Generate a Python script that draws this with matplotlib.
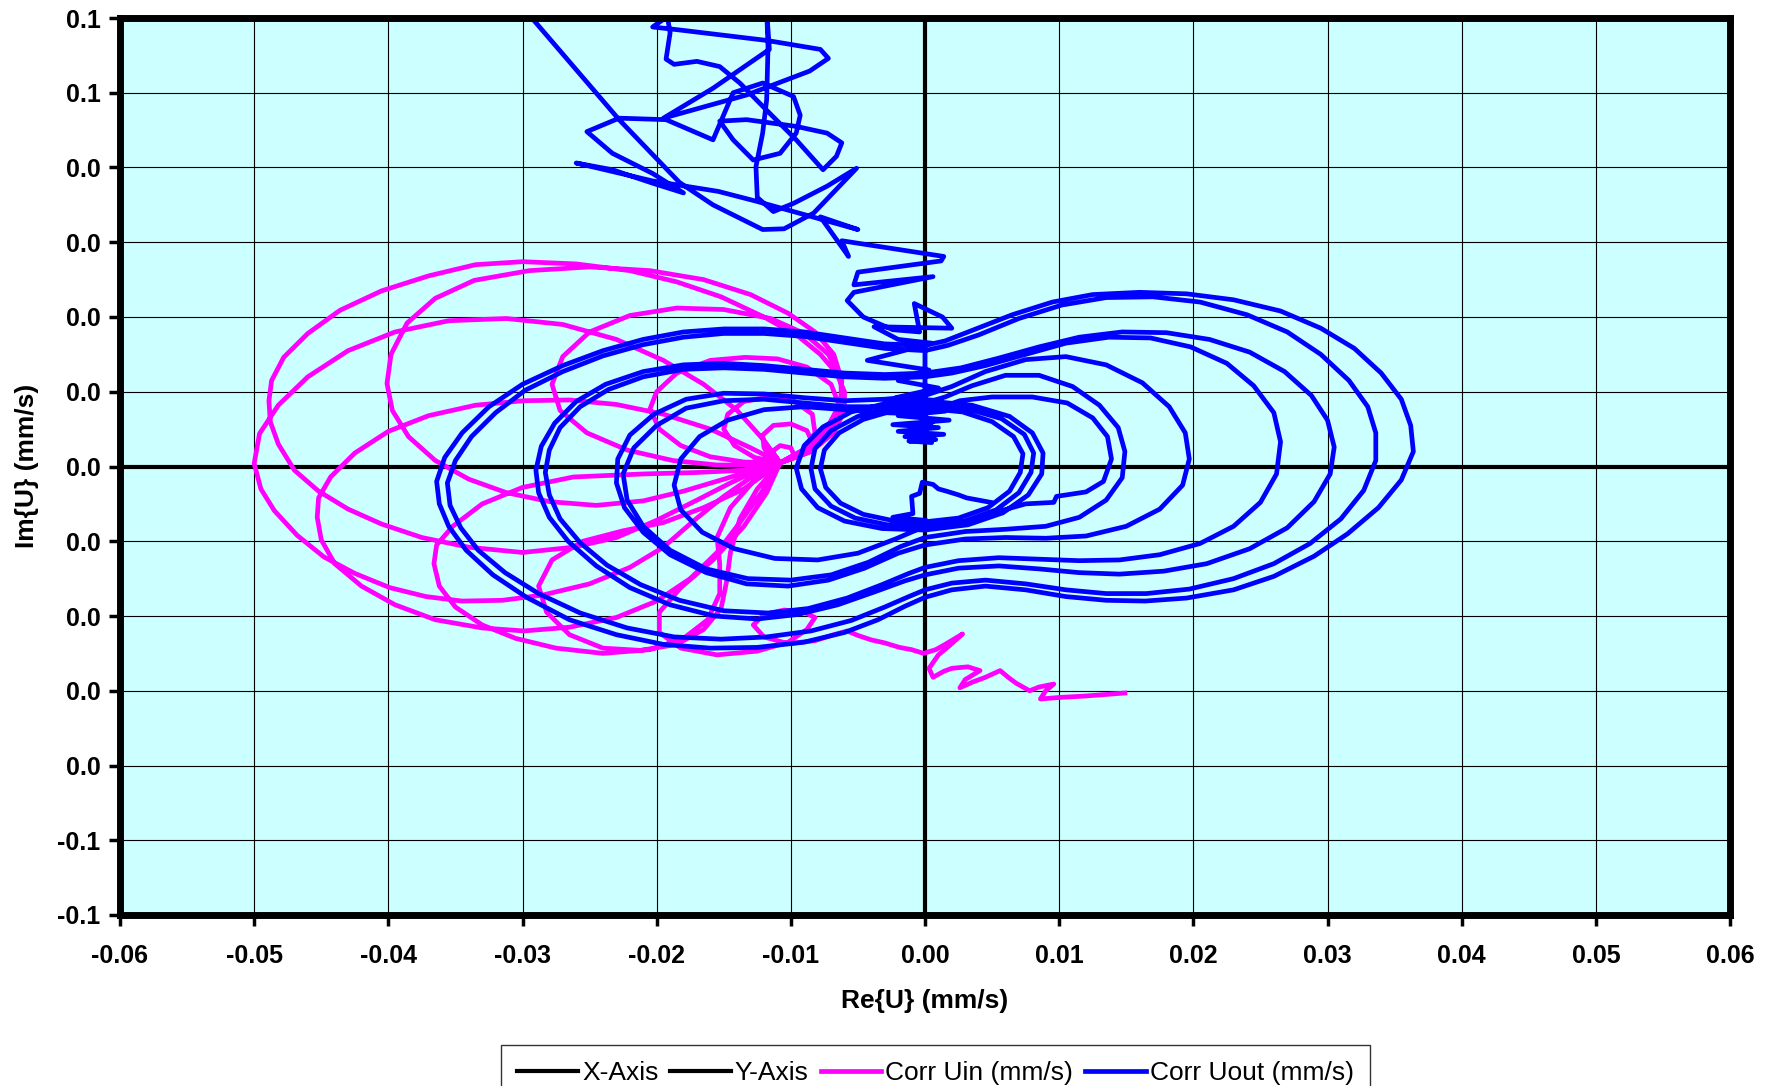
#!/usr/bin/env python3
"""Complex velocity trajectories: Re{U} vs Im{U} for Corr Uin / Corr Uout."""
import matplotlib
matplotlib.use("Agg")
import matplotlib.pyplot as plt
import numpy as np

plt.rcParams["font.family"] = ["Liberation Sans", "DejaVu Sans"]

# ---------- data (mm/s) ----------

X_TICKS = [-0.06, -0.05, -0.04, -0.03, -0.02, -0.01, 0.0, 0.01, 0.02, 0.03, 0.04, 0.05, 0.06]
X_LABELS = ["-0.06", "-0.05", "-0.04", "-0.03", "-0.02", "-0.01", "0.00",
            "0.01", "0.02", "0.03", "0.04", "0.05", "0.06"]
Y_TICKS = [-0.06, -0.05, -0.04, -0.03, -0.02, -0.01, 0.0, 0.01, 0.02, 0.03, 0.04, 0.05, 0.06]
Y_LABELS = ["-0.1", "-0.1", "0.0", "0.0", "0.0", "0.0", "0.0",
            "0.0", "0.0", "0.0", "0.0", "0.1", "0.1"]

X_AXIS = [(-0.06, 0.0), (0.06, 0.0)]
Y_AXIS = [(0.0, -0.06), (0.0, 0.06)]

# Corr Uin: loops that all pass near (-0.0108, 0.0005)
UIN_U7 = [(-0.0108, 0.0005), (-0.0097, 0.0013), (-0.0100, 0.0025), (-0.0108, 0.0028),
          (-0.0114, 0.0020), (-0.0108, 0.0005)]
UIN_U6 = [(-0.0092, 0.0015), (-0.0084, 0.0032), (-0.0088, 0.0048), (-0.0100, 0.0057),
          (-0.0113, 0.0055), (-0.0121, 0.0042), (-0.0120, 0.0025), (-0.0115, 0.0012), (-0.0108, 0.0005)]
UIN_U5 = [(-0.0090, 0.0022), (-0.0082, 0.0045), (-0.0084, 0.0070), (-0.0098, 0.0088),
          (-0.0116, 0.0093), (-0.0135, 0.0087), (-0.0147, 0.0070), (-0.0150, 0.0050),
          (-0.0142, 0.0028), (-0.0127, 0.0012), (-0.0108, 0.0005)]
UIN_U4 = [(-0.0085, 0.0020), (-0.0070, 0.0045), (-0.0063, 0.0077), (-0.0070, 0.0110),
          (-0.0088, 0.0133), (-0.0110, 0.0144), (-0.0134, 0.0146), (-0.0160, 0.0142),
          (-0.0185, 0.0125), (-0.0200, 0.0100), (-0.0205, 0.0077), (-0.0198, 0.0050),
          (-0.0182, 0.0028), (-0.0160, 0.0013), (-0.0135, 0.0006), (-0.0108, 0.0005)]
UIN_U3 = [(-0.0085, 0.0025), (-0.0070, 0.0055), (-0.0062, 0.0090), (-0.0063, 0.0120),
          (-0.0072, 0.0150), (-0.0090, 0.0178), (-0.0115, 0.0198), (-0.0150, 0.0210),
          (-0.0185, 0.0212), (-0.0220, 0.0202), (-0.0250, 0.0180), (-0.0270, 0.0147),
          (-0.0278, 0.0110), (-0.0272, 0.0075), (-0.0252, 0.0045), (-0.0222, 0.0022),
          (-0.0188, 0.0008), (-0.0155, 0.0002), (-0.0130, 0.0002), (-0.0108, 0.0005)]
UIN_U2 = [(-0.0088, 0.0025), (-0.0072, 0.0055), (-0.0063, 0.0085), (-0.0062, 0.0115),
          (-0.0068, 0.0150), (-0.0082, 0.0180), (-0.0102, 0.0205), (-0.0130, 0.0230),
          (-0.0165, 0.0250), (-0.0205, 0.0262), (-0.0250, 0.0267), (-0.0295, 0.0262),
          (-0.0336, 0.0249), (-0.0365, 0.0225), (-0.0386, 0.0192), (-0.0398, 0.0150),
          (-0.0401, 0.0111), (-0.0397, 0.0075), (-0.0385, 0.0040), (-0.0365, 0.0008),
          (-0.0340, -0.0017), (-0.0312, -0.0035), (-0.0280, -0.0047), (-0.0245, -0.0052),
          (-0.0210, -0.0046), (-0.0180, -0.0033), (-0.0150, -0.0017), (-0.0125, -0.0003),
          (-0.0108, 0.0005)]
UIN_U1 = [(-0.0085, 0.0020), (-0.0068, 0.0045), (-0.0060, 0.0075), (-0.0060, 0.0100),
          (-0.0066, 0.0125), (-0.0078, 0.0150), (-0.0095, 0.0175), (-0.0120, 0.0200),
          (-0.0152, 0.0227), (-0.0185, 0.0247), (-0.0220, 0.0262), (-0.0260, 0.0271),
          (-0.0300, 0.0274), (-0.0335, 0.0270), (-0.0370, 0.0255), (-0.0405, 0.0235),
          (-0.0436, 0.0209), (-0.0460, 0.0178), (-0.0478, 0.0146), (-0.0487, 0.0115),
          (-0.0489, 0.0088), (-0.0488, 0.0060), (-0.0482, 0.0030), (-0.0470, -0.0005),
          (-0.0452, -0.0033), (-0.0430, -0.0057), (-0.0405, -0.0077), (-0.0375, -0.0095),
          (-0.0340, -0.0108), (-0.0300, -0.0115), (-0.0262, -0.0108), (-0.0230, -0.0095),
          (-0.0200, -0.0072), (-0.0170, -0.0045), (-0.0145, -0.0022), (-0.0125, -0.0005),
          (-0.0108, 0.0005)]
UIN_L1 = [(-0.0120, 0.0035), (-0.0140, 0.0075), (-0.0165, 0.0110), (-0.0195, 0.0142),
          (-0.0230, 0.0170), (-0.0270, 0.0190), (-0.0312, 0.0198), (-0.0355, 0.0195),
          (-0.0395, 0.0180), (-0.0430, 0.0155), (-0.0460, 0.0120), (-0.0482, 0.0082),
          (-0.0496, 0.0044), (-0.0500, 0.0004), (-0.0495, -0.0030), (-0.0485, -0.0059),
          (-0.0468, -0.0092), (-0.0448, -0.0121), (-0.0425, -0.0143), (-0.0399, -0.0162),
          (-0.0372, -0.0174), (-0.0345, -0.0180), (-0.0315, -0.0179), (-0.0285, -0.0172),
          (-0.0250, -0.0157), (-0.0220, -0.0135), (-0.0195, -0.0108), (-0.0172, -0.0072),
          (-0.0150, -0.0040), (-0.0130, -0.0015), (-0.0108, 0.0005)]
UIN_L2 = [(-0.0130, 0.0025), (-0.0160, 0.0050), (-0.0195, 0.0070), (-0.0230, 0.0083),
          (-0.0265, 0.0089), (-0.0299, 0.0088), (-0.0335, 0.0082), (-0.0370, 0.0068),
          (-0.0400, 0.0047), (-0.0425, 0.0018), (-0.0443, -0.0014), (-0.0452, -0.0042),
          (-0.0453, -0.0068), (-0.0450, -0.0098), (-0.0440, -0.0130), (-0.0420, -0.0160),
          (-0.0395, -0.0185), (-0.0365, -0.0205), (-0.0330, -0.0216), (-0.0299, -0.0220),
          (-0.0265, -0.0215), (-0.0230, -0.0202), (-0.0200, -0.0180), (-0.0175, -0.0150),
          (-0.0155, -0.0115), (-0.0138, -0.0075), (-0.0122, -0.0035), (-0.0108, 0.0005)]
UIN_L3 = [(-0.0135, -0.0005), (-0.0170, -0.0008), (-0.0210, -0.0010), (-0.0262, -0.0014),
          (-0.0300, -0.0028), (-0.0330, -0.0050), (-0.0352, -0.0080), (-0.0364, -0.0105),
          (-0.0366, -0.0130), (-0.0362, -0.0160), (-0.0350, -0.0188), (-0.0330, -0.0212),
          (-0.0305, -0.0230), (-0.0275, -0.0243), (-0.0240, -0.0250), (-0.0205, -0.0245),
          (-0.0180, -0.0230), (-0.0162, -0.0205), (-0.0153, -0.0170), (-0.0153, -0.0130),
          (-0.0155, -0.0095), (-0.0145, -0.0055), (-0.0128, -0.0020), (-0.0108, 0.0005)]
UIN_L4 = [(-0.0135, -0.0030), (-0.0165, -0.0055), (-0.0195, -0.0075), (-0.0225, -0.0086),
          (-0.0255, -0.0100), (-0.0278, -0.0125), (-0.0288, -0.0160), (-0.0282, -0.0195),
          (-0.0265, -0.0225), (-0.0240, -0.0243), (-0.0212, -0.0246), (-0.0185, -0.0238),
          (-0.0165, -0.0218), (-0.0152, -0.0190), (-0.0148, -0.0155), (-0.0145, -0.0115),
          (-0.0138, -0.0070), (-0.0125, -0.0030), (-0.0108, 0.0005)]
UIN_L5 = [(-0.0118, -0.0035), (-0.0135, -0.0080), (-0.0158, -0.0125), (-0.0182, -0.0162),
          (-0.0198, -0.0195), (-0.0198, -0.0222), (-0.0182, -0.0243), (-0.0155, -0.0252),
          (-0.0125, -0.0247), (-0.0102, -0.0235), (-0.0088, -0.0218), (-0.0082, -0.0202)]
UIN_L6 = [(-0.0090, -0.0195), (-0.0105, -0.0192), (-0.0120, -0.0198), (-0.0128, -0.0212),
          (-0.0120, -0.0228), (-0.0102, -0.0237), (-0.0082, -0.0233), (-0.0068, -0.0225),
          (-0.0058, -0.0220)]
UIN_TAIL = [(-0.0050, -0.0226), (-0.0040, -0.0232), (-0.0030, -0.0236), (-0.0019, -0.0242),
            (-0.0010, -0.0245), (-0.0001, -0.0250), (0.0008, -0.0245), (0.0015, -0.0238),
            (0.0028, -0.0224), (0.0018, -0.0240), (0.0010, -0.0252), (0.0003, -0.0270),
            (0.0006, -0.0282), (0.0014, -0.0274), (0.0020, -0.0270), (0.0032, -0.0268),
            (0.0041, -0.0273), (0.0030, -0.0285), (0.0026, -0.0296), (0.0036, -0.0288),
            (0.0045, -0.0282), (0.0056, -0.0273), (0.0062, -0.0282), (0.0068, -0.0290),
            (0.0078, -0.0300), (0.0085, -0.0295), (0.0096, -0.0291), (0.0090, -0.0300),
            (0.0086, -0.0311), (0.0100, -0.0309), (0.0120, -0.0307), (0.0149, -0.0303)]

# Corr Uout: wandering start at the top, then loops through the centre
UOUT_TOP = [(-0.0305, 0.0625), (-0.0228, 0.0464), (-0.0183, 0.0380), (-0.0158, 0.0350),
            (-0.0121, 0.0317), (-0.0105, 0.0318), (-0.0083, 0.0339), (-0.0051, 0.0399),
            (-0.0073, 0.0375), (-0.0098, 0.0352), (-0.0113, 0.0341), (-0.0125, 0.0360),
            (-0.0126, 0.0401), (-0.0121, 0.0446), (-0.0118, 0.0491), (-0.0117, 0.0562),
            (-0.0118, 0.0610), (-0.0116, 0.0558), (-0.0158, 0.0506), (-0.0195, 0.0466),
            (-0.0133, 0.0497), (-0.0086, 0.0529), (-0.0072, 0.0546), (-0.0078, 0.0558),
            (-0.0118, 0.0570), (-0.0183, 0.0584), (-0.0203, 0.0588), (-0.0192, 0.0602),
            (-0.0190, 0.0580), (-0.0193, 0.0545), (-0.0187, 0.0538), (-0.0170, 0.0542),
            (-0.0153, 0.0535), (-0.0138, 0.0513), (-0.0121, 0.0482), (-0.0096, 0.0437),
            (-0.0076, 0.0397), (-0.0066, 0.0415), (-0.0062, 0.0433), (-0.0073, 0.0446),
            (-0.0096, 0.0455), (-0.0133, 0.0464), (-0.0153, 0.0462), (-0.0143, 0.0437),
            (-0.0128, 0.0410), (-0.0108, 0.0419), (-0.0096, 0.0446), (-0.0093, 0.0470),
            (-0.0098, 0.0495), (-0.0121, 0.0513), (-0.0143, 0.0500), (-0.0158, 0.0437),
            (-0.0193, 0.0464), (-0.0228, 0.0466), (-0.0252, 0.0448), (-0.0233, 0.0419),
            (-0.0203, 0.0392), (-0.0180, 0.0366), (-0.0203, 0.0379), (-0.0233, 0.0397),
            (-0.0260, 0.0406), (-0.0203, 0.0382), (-0.0154, 0.0368), (-0.0126, 0.0355),
            (-0.0050, 0.0317), (-0.0078, 0.0334), (-0.0057, 0.0281), (-0.0062, 0.0302),
            (0.0014, 0.0281), (0.0012, 0.0275), (-0.0050, 0.0260), (-0.0053, 0.0243),
            (0.0006, 0.0254), (-0.0053, 0.0233), (-0.0058, 0.0222), (-0.0046, 0.0200),
            (-0.0024, 0.0183), (-0.0004, 0.0180), (-0.0008, 0.0218), (0.0013, 0.0200),
            (0.0020, 0.0185), (-0.0038, 0.0187), (-0.0020, 0.0170), (0.0005, 0.0165),
            (-0.0043, 0.0142), (0.0003, 0.0129), (-0.0020, 0.0115), (0.0010, 0.0105),
            (-0.0022, 0.0092), (0.0012, 0.0088), (-0.0025, 0.0080), (0.0015, 0.0074),
            (-0.0020, 0.0068), (0.0018, 0.0062), (-0.0024, 0.0056), (0.0010, 0.0052),
            (-0.0020, 0.0047), (0.0014, 0.0043), (-0.0015, 0.0040), (0.0008, 0.0036),
            (-0.0012, 0.0034), (0.0005, 0.0032), (-0.0006, 0.0045), (0.0006, 0.0060),
            (-0.0010, 0.0070), (0.0000, 0.0078)]
UOUT_I3 = [(0.0, 0.0078), (-0.0025, 0.0074), (-0.0046, 0.0063), (-0.0064, 0.0045),
           (-0.0075, 0.0022), (-0.0078, -0.0003), (-0.0074, -0.0028), (-0.0063, -0.0049),
           (-0.0046, -0.0064), (-0.0025, -0.0072), (0.0, -0.0074), (0.0025, -0.0069),
           (0.0047, -0.0055), (0.0063, -0.0033), (0.0071, -0.0008), (0.0073, 0.0017),
           (0.0066, 0.0040), (0.0050, 0.0060), (0.0028, 0.0073), (0.0, 0.0078)]
UOUT_I2 = [(0.0, 0.0082), (-0.0028, 0.0078), (-0.0050, 0.0067), (-0.0070, 0.0048),
           (-0.0082, 0.0024), (-0.0085, -0.0003), (-0.0082, -0.0030), (-0.0070, -0.0053),
           (-0.0052, -0.0069), (-0.0028, -0.0078), (0.0, -0.0080), (0.0028, -0.0074),
           (0.0053, -0.0058), (0.0070, -0.0035), (0.0079, -0.0008), (0.0081, 0.0018),
           (0.0074, 0.0043), (0.0057, 0.0064), (0.0032, 0.0077), (0.0, 0.0082)]
UOUT_I1 = [(0.0, 0.0088), (-0.0030, 0.0084), (-0.0055, 0.0073), (-0.0076, 0.0053),
           (-0.0090, 0.0028), (-0.0096, -0.0002), (-0.0092, -0.0030), (-0.0080, -0.0055),
           (-0.0060, -0.0073), (-0.0032, -0.0083), (0.0, -0.0085), (0.0032, -0.0078),
           (0.0058, -0.0062), (0.0077, -0.0038), (0.0087, -0.0010), (0.0088, 0.0018),
           (0.0080, 0.0045), (0.0063, 0.0067), (0.0035, 0.0082), (0.0, 0.0088)]
UOUT_O7 = [(0.0, 0.0070), (-0.0030, 0.0072), (-0.0060, 0.0076), (-0.0090, 0.0080),
           (-0.0120, 0.0076), (-0.0147, 0.0062), (-0.0168, 0.0040), (-0.0182, 0.0010),
           (-0.0187, -0.0025), (-0.0182, -0.0058), (-0.0166, -0.0088), (-0.0142, -0.0110),
           (-0.0112, -0.0123), (-0.0080, -0.0125), (-0.0050, -0.0116), (-0.0022, -0.0097),
           (0.0, -0.0080), (0.0030, -0.0074), (0.0055, -0.0060), (0.0075, -0.0050),
           (0.0096, -0.0048), (0.0098, -0.0040), (0.0120, -0.0034), (0.0133, -0.0020),
           (0.0139, 0.0010), (0.0136, 0.0040), (0.0125, 0.0065), (0.0106, 0.0085),
           (0.0080, 0.0093), (0.0050, 0.0093), (0.0026, 0.0088), (0.0010, 0.0078), (0.0, 0.0070)]
UOUT_O6 = [(0.0, 0.0085), (-0.0030, 0.0080), (-0.0060, 0.0080), (-0.0090, 0.0085),
           (-0.0120, 0.0090), (-0.0150, 0.0088), (-0.0178, 0.0078), (-0.0200, 0.0055),
           (-0.0217, 0.0025), (-0.0225, -0.0010), (-0.0222, -0.0045), (-0.0210, -0.0080),
           (-0.0190, -0.0112), (-0.0163, -0.0137), (-0.0132, -0.0150), (-0.0100, -0.0152),
           (-0.0070, -0.0145), (-0.0042, -0.0128), (-0.0018, -0.0107), (0.0, -0.0095),
           (0.0030, -0.0087), (0.0060, -0.0084), (0.0090, -0.0080), (0.0115, -0.0068),
           (0.0135, -0.0045), (0.0147, -0.0015), (0.0149, 0.0020), (0.0144, 0.0052),
           (0.0130, 0.0082), (0.0110, 0.0107), (0.0085, 0.0122), (0.0060, 0.0122),
           (0.0035, 0.0108), (0.0015, 0.0093), (0.0, 0.0085)]
UOUT_O5 = [(0.0, 0.0095), (-0.0030, 0.0090), (-0.0060, 0.0088), (-0.0090, 0.0092),
           (-0.0120, 0.0097), (-0.0150, 0.0098), (-0.0178, 0.0090), (-0.0202, 0.0070),
           (-0.0220, 0.0042), (-0.0229, 0.0010), (-0.0230, -0.0022), (-0.0224, -0.0055),
           (-0.0210, -0.0088), (-0.0190, -0.0118), (-0.0163, -0.0142), (-0.0133, -0.0157),
           (-0.0102, -0.0160), (-0.0072, -0.0152), (-0.0045, -0.0136), (-0.0020, -0.0116),
           (0.0, -0.0105), (0.0030, -0.0097), (0.0060, -0.0095), (0.0090, -0.0096),
           (0.0120, -0.0093), (0.0150, -0.0080), (0.0175, -0.0057), (0.0192, -0.0025),
           (0.0197, 0.0010), (0.0194, 0.0045), (0.0182, 0.0080), (0.0162, 0.0112),
           (0.0135, 0.0136), (0.0105, 0.0147), (0.0075, 0.0143), (0.0045, 0.0127),
           (0.0020, 0.0107), (0.0, 0.0095)]
UOUT_O4 = [(0.0, 0.0120), (-0.0030, 0.0118), (-0.0060, 0.0120), (-0.0090, 0.0125),
           (-0.0120, 0.0130), (-0.0150, 0.0132), (-0.0180, 0.0130), (-0.0210, 0.0120),
           (-0.0236, 0.0103), (-0.0257, 0.0080), (-0.0272, 0.0052), (-0.0280, 0.0022),
           (-0.0283, -0.0008), (-0.0280, -0.0038), (-0.0272, -0.0070), (-0.0257, -0.0102),
           (-0.0237, -0.0132), (-0.0212, -0.0158), (-0.0183, -0.0179), (-0.0150, -0.0193),
           (-0.0117, -0.0196), (-0.0087, -0.0190), (-0.0058, -0.0176), (-0.0032, -0.0158),
           (-0.0012, -0.0143), (0.0, -0.0135), (0.0025, -0.0126), (0.0055, -0.0122),
           (0.0085, -0.0124), (0.0115, -0.0126), (0.0145, -0.0125), (0.0175, -0.0118),
           (0.0205, -0.0103), (0.0230, -0.0080), (0.0250, -0.0048), (0.0262, -0.0010),
           (0.0265, 0.0033), (0.0260, 0.0072), (0.0245, 0.0108), (0.0225, 0.0138),
           (0.0198, 0.0160), (0.0168, 0.0172), (0.0137, 0.0173), (0.0105, 0.0165),
           (0.0075, 0.0150), (0.0045, 0.0135), (0.0020, 0.0125), (0.0, 0.0120)]
UOUT_O3 = [(0.0, 0.0125), (-0.0030, 0.0123), (-0.0060, 0.0125), (-0.0090, 0.0130),
           (-0.0120, 0.0135), (-0.0150, 0.0138), (-0.0180, 0.0136), (-0.0210, 0.0127),
           (-0.0238, 0.0110), (-0.0260, 0.0087), (-0.0276, 0.0058), (-0.0286, 0.0027),
           (-0.0290, -0.0005), (-0.0288, -0.0035), (-0.0280, -0.0068), (-0.0266, -0.0100),
           (-0.0245, -0.0133), (-0.0220, -0.0162), (-0.0190, -0.0185), (-0.0157, -0.0200),
           (-0.0125, -0.0204), (-0.0095, -0.0198), (-0.0065, -0.0185), (-0.0038, -0.0168),
           (-0.0015, -0.0153), (0.0, -0.0145), (0.0025, -0.0136), (0.0055, -0.0133),
           (0.0085, -0.0137), (0.0115, -0.0142), (0.0145, -0.0144), (0.0178, -0.0140),
           (0.0210, -0.0130), (0.0242, -0.0110), (0.0270, -0.0082), (0.0290, -0.0047),
           (0.0302, -0.0010), (0.0305, 0.0026), (0.0300, 0.0062), (0.0288, 0.0095),
           (0.0268, 0.0127), (0.0242, 0.0153), (0.0212, 0.0170), (0.0180, 0.0179),
           (0.0147, 0.0180), (0.0115, 0.0173), (0.0085, 0.0160), (0.0055, 0.0145),
           (0.0027, 0.0132), (0.0, 0.0125)]
UOUT_O2 = [(0.0, 0.0155), (-0.0030, 0.0158), (-0.0060, 0.0166), (-0.0090, 0.0174),
           (-0.0120, 0.0178), (-0.0150, 0.0178), (-0.0180, 0.0173), (-0.0210, 0.0163),
           (-0.0240, 0.0148), (-0.0270, 0.0127), (-0.0298, 0.0102), (-0.0320, 0.0072),
           (-0.0338, 0.0040), (-0.0350, 0.0008), (-0.0356, -0.0022), (-0.0354, -0.0052),
           (-0.0346, -0.0082), (-0.0333, -0.0112), (-0.0313, -0.0142), (-0.0288, -0.0170),
           (-0.0257, -0.0196), (-0.0222, -0.0216), (-0.0187, -0.0228), (-0.0152, -0.0231),
           (-0.0118, -0.0228), (-0.0085, -0.0220), (-0.0055, -0.0206), (-0.0030, -0.0188),
           (-0.0012, -0.0174), (0.0, -0.0165), (0.0020, -0.0156), (0.0045, -0.0152),
           (0.0075, -0.0157), (0.0105, -0.0165), (0.0135, -0.0170), (0.0165, -0.0170),
           (0.0197, -0.0164), (0.0230, -0.0150), (0.0260, -0.0130), (0.0287, -0.0103),
           (0.0310, -0.0070), (0.0327, -0.0032), (0.0336, 0.0008), (0.0336, 0.0045),
           (0.0330, 0.0080), (0.0316, 0.0115), (0.0295, 0.0150), (0.0270, 0.0180),
           (0.0240, 0.0203), (0.0205, 0.0220), (0.0170, 0.0227), (0.0135, 0.0226),
           (0.0102, 0.0216), (0.0070, 0.0198), (0.0040, 0.0176), (0.0017, 0.0162), (0.0, 0.0155)]
UOUT_O1 = [(0.0, 0.0162), (-0.0030, 0.0164), (-0.0060, 0.0172), (-0.0090, 0.0180),
           (-0.0120, 0.0184), (-0.0150, 0.0184), (-0.0180, 0.0180), (-0.0210, 0.0170),
           (-0.0240, 0.0155), (-0.0270, 0.0135), (-0.0300, 0.0110), (-0.0325, 0.0080),
           (-0.0345, 0.0045), (-0.0358, 0.0012), (-0.0364, -0.0020), (-0.0362, -0.0050),
           (-0.0355, -0.0080), (-0.0342, -0.0112), (-0.0322, -0.0145), (-0.0297, -0.0175),
           (-0.0265, -0.0205), (-0.0230, -0.0225), (-0.0195, -0.0238), (-0.0160, -0.0243),
           (-0.0125, -0.0242), (-0.0090, -0.0235), (-0.0060, -0.0222), (-0.0035, -0.0205),
           (-0.0015, -0.0187), (0.0, -0.0175), (0.0020, -0.0165), (0.0045, -0.0160),
           (0.0075, -0.0165), (0.0105, -0.0174), (0.0135, -0.0179), (0.0164, -0.0180),
           (0.0195, -0.0176), (0.0230, -0.0165), (0.0260, -0.0147), (0.0290, -0.0120),
           (0.0315, -0.0090), (0.0338, -0.0055), (0.0355, -0.0018), (0.0364, 0.0020),
           (0.0362, 0.0055), (0.0355, 0.0090), (0.0340, 0.0125), (0.0320, 0.0158),
           (0.0295, 0.0185), (0.0265, 0.0208), (0.0230, 0.0223), (0.0195, 0.0231),
           (0.0160, 0.0233), (0.0125, 0.0230), (0.0095, 0.0220), (0.0065, 0.0203),
           (0.0035, 0.0182), (0.0015, 0.0168), (0.0, 0.0162)]
UOUT_JAG = [(0.0, -0.0072), (-0.0024, -0.0068), (-0.0009, -0.0063), (-0.0010, -0.0040),
            (-0.0004, -0.0036), (-0.0002, -0.0021), (0.0006, -0.0024), (0.0010, -0.0030),
            (0.0016, -0.0033), (0.0025, -0.0038), (0.0031, -0.0042), (0.0040, -0.0045),
            (0.0049, -0.0048)]

UIN_SEGMENTS = [UIN_U7, UIN_U6, UIN_U5, UIN_U4, UIN_U3, UIN_U2, UIN_U1,
                UIN_L1, UIN_L2, UIN_L3, UIN_L4, UIN_L5, UIN_L6, UIN_TAIL]
UOUT_SEGMENTS = [UOUT_TOP, UOUT_I3, UOUT_I2, UOUT_I1, UOUT_O7, UOUT_O6,
                 UOUT_O5, UOUT_O4, UOUT_O3, UOUT_O2, UOUT_O1]

MAGENTA = "#FF00FF"
BLUE = "#0000FF"
BG = "#CCFFFF"


def xy(points):
    arr = np.array(points)
    return arr[:, 0], arr[:, 1]


fig = plt.figure(figsize=(17.76, 10.86), dpi=100)
ax = fig.add_axes([120 / 1776, 1 - 915 / 1086, 1610 / 1776, 897 / 1086])
ax.set_facecolor(BG)

lw = 3.4
ax.plot(*xy(X_AXIS), color="black", lw=3.0, label="X-Axis", zorder=2)
ax.plot(*xy(Y_AXIS), color="black", lw=3.0, label="Y-Axis", zorder=2)

uin = [p for seg in UIN_SEGMENTS for p in seg]
ax.plot(*xy(uin), color=MAGENTA, lw=lw, label="Corr Uin (mm/s)",
        solid_joinstyle="round", zorder=3)

uout = [p for seg in UOUT_SEGMENTS for p in seg]
ax.plot(*xy(uout), color=BLUE, lw=lw, label="Corr Uout (mm/s)",
        solid_joinstyle="round", zorder=4)
ax.plot(*xy(UOUT_JAG), color=BLUE, lw=lw, solid_joinstyle="round", zorder=4)

ax.set_xlim(-0.06, 0.06)
ax.set_ylim(-0.06, 0.06)
ax.set_xticks(X_TICKS)
ax.set_xticklabels(X_LABELS)
ax.set_yticks(Y_TICKS)
ax.set_yticklabels(Y_LABELS)
ax.grid(True, color="black", lw=0.8, zorder=1)
ax.set_axisbelow(True)

ax.tick_params(axis="both", direction="out", length=8, width=2.5, color="black",
               labelsize=18)
ax.tick_params(axis="x", pad=13)
ax.tick_params(axis="y", pad=6)
for lab in ax.get_xticklabels() + ax.get_yticklabels():
    lab.set_fontweight("bold")
for sp in ax.spines.values():
    sp.set_linewidth(5.0)
    sp.set_color("black")
    sp.set_zorder(6)

fig.text(925 / 1776, 1 - 1001 / 1086, "Re{U} (mm/s)", ha="center", va="center",
         fontsize=19, fontweight="bold")
fig.text(27 / 1776, 1 - 466 / 1086, "Im{U} (mm/s)", ha="center", va="center",
         rotation=90, fontsize=19, fontweight="bold")

# legend box runs off the bottom edge of the figure, as in the original
leg = fig.legend(loc="upper center", bbox_to_anchor=(935.5 / 1776, 1 - 1045 / 1086),
                 ncol=4, fontsize=19, frameon=True, fancybox=False, shadow=False,
                 edgecolor="black", handlelength=2.3, handletextpad=0.15,
                 columnspacing=0.45, borderpad=0.6, borderaxespad=0.0)
leg.get_frame().set_linewidth(1.0)

fig.savefig("out.png", dpi=100)
